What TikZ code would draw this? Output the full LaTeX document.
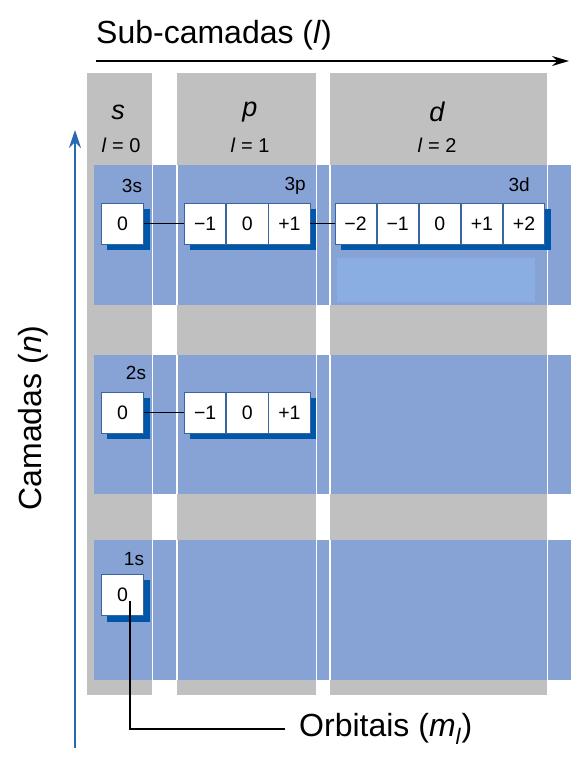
\documentclass[tikz,border=0pt]{standalone}
\usepackage{fontspec}
\setmainfont{Liberation Sans}
\usetikzlibrary{arrows.meta,calc}
\pgfdeclarelayer{bglayer}
\pgfdeclarelayer{shadowlayer}
\pgfsetlayers{bglayer,shadowlayer,main}
\definecolor{colgray}{RGB}{192,192,192}
\definecolor{bandblue}{RGB}{135,163,214}
\definecolor{lightblue}{RGB}{139,174,226}
\definecolor{shadowblue}{RGB}{0,87,168}
\definecolor{cellborder}{RGB}{60,100,160}
\definecolor{axisblue}{RGB}{40,105,175}
\tikzset{
  cell/.style={draw=cellborder, line width=0.8pt, fill=white, minimum width=41.3pt, minimum height=41pt, inner sep=0pt, font=\fontsize{19.5}{21}\selectfont},
  shadowbox/.style={fill=shadowblue},
  sublabel/.style={font=\fontsize{19}{21}\selectfont, inner sep=0pt},
  header/.style={font=\fontsize{27}{30}\selectfont\itshape, inner sep=0pt},
  lval/.style={font=\fontsize{20}{22}\selectfont, inner sep=0pt},
  bigtext/.style={font=\fontsize{32}{36}\selectfont, inner sep=0pt},
  link/.style={draw=black, line width=1.7pt},
  sep/.style={draw=white, line width=1.3pt}
}
\begin{document}
\begin{tikzpicture}[x=1pt,y=-1pt]
\useasboundingbox (0,0) rectangle (576,757);
% columns and bands
\begin{pgfonlayer}{bglayer}
  \fill[colgray] (87,73) rectangle (152,695);
  \fill[colgray] (177,73) rectangle (316,695);
  \fill[colgray] (330,73) rectangle (547,695);
  \fill[bandblue] (94,165) rectangle (571,305);
  \fill[bandblue] (94,355) rectangle (571,494);
  \fill[bandblue] (94,540) rectangle (571,680);
  \fill[lightblue] (337,258) rectangle (535,302);
  \foreach \yy/\yb in {165/305,355/494,540/680}{
    \foreach \xx in {152.5,177,316.5,330,547.5}{
      \draw[sep] (\xx,\yy) -- (\xx,\yb);
    }
  }
\end{pgfonlayer}
% title and axis
\node[bigtext, anchor=west] (title) at (96,35) {Sub-camadas (\textit{l})};
\coordinate (hx0) at (96,61);
\coordinate (hx1) at (569,61);
\draw[line width=1.8pt, -{Stealth[length=17pt,width=10pt]}] (hx0) -- (hx1);
\coordinate (vy0) at (75,748);
\coordinate (vy1) at (75,130);
\draw[axisblue, line width=1.8pt, -{Stealth[length=18pt,width=12pt]}] (vy0) -- (vy1);
\node[bigtext, rotate=90] (camadas) at (33,418) {Camadas (\textit{n})};
% headers
\node[header] (hs) at (118,112) {s};
\node[lval] (ls) at (121,145) {\textit{l} = 0};
\node[header] (hp) at (250,112) {p};
\node[lval] (lp) at (250,145) {\textit{l} = 1};
\node[header] (hd) at (437,112) {d};
\node[lval] (ld) at (437,145) {\textit{l} = 2};
% row n=3
\node[sublabel] (t3s) at (132,186) {3s};
\node[sublabel, anchor=east] (t3p) at (306,186) {3p};
\node[sublabel, anchor=east] (t3d) at (530,185) {3d};
\node[cell] (s3) at (122.5,223.5) {0};
\node[cell] (p3a) at (205.2,223.5) {−1};
\node[cell, anchor=west] (p3b) at (p3a.east) {0};
\node[cell, anchor=west] (p3c) at (p3b.east) {+1};
\node[cell] (d3a) at (355.6,223.5) {−2};
\node[cell, anchor=west] (d3b) at (d3a.east) {−1};
\node[cell, anchor=west] (d3c) at (d3b.east) {0};
\node[cell, anchor=west] (d3d) at (d3c.east) {+1};
\node[cell, anchor=west] (d3e) at (d3d.east) {+2};
% row n=2
\node[sublabel] (t2s) at (136,373) {2s};
\node[cell] (s2) at (122.5,412.5) {0};
\node[cell] (p2a) at (205.2,412.5) {−1};
\node[cell, anchor=west] (p2b) at (p2a.east) {0};
\node[cell, anchor=west] (p2c) at (p2b.east) {+1};
% row n=1
\node[sublabel] (t1s) at (134,559) {1s};
\node[cell] (s1) at (122.5,595) {0};
% shadows
\begin{pgfonlayer}{shadowlayer}
  \foreach \a/\b in {s3/s3,p3a/p3c,d3a/d3e,s2/s2,p2a/p2c,s1/s1}{
    \fill[shadowbox] ([shift={(6pt,-6pt)}]\a.north west) rectangle ([shift={(6pt,-6pt)}]\b.south east);
  }
\end{pgfonlayer}
% connectors
\draw[link] (s3.east) -- (p3a.west);
\draw[link] (p3c.east) -- (d3a.west);
\draw[link] (s2.east) -- (p2a.west);
% orbitals leader
\node[bigtext, anchor=west] (orb) at (299,729) {Orbitais (\textit{m}\textsubscript{\textit{l}})};
\coordinate (lead) at (130,601);
\draw[link, line width=1.8pt] (lead) |- ([xshift=-14pt]orb.west);
\end{tikzpicture}
\end{document}
